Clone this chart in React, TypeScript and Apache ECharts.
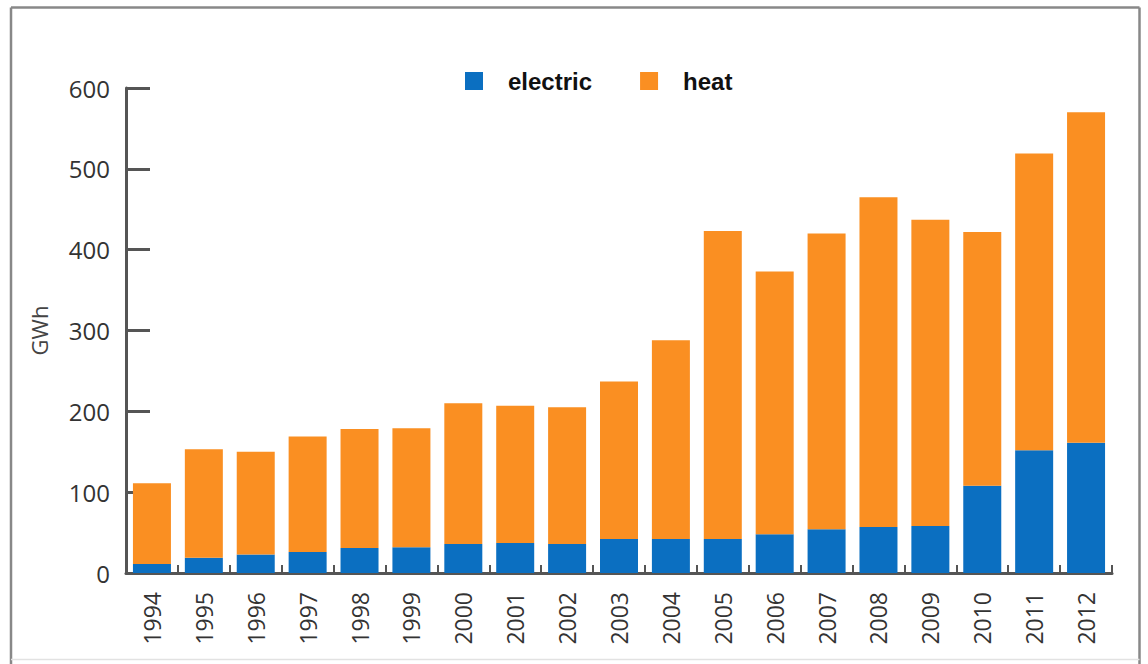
import React, { useEffect, useRef } from "react";
import * as echarts from "echarts";

const years = ["1994","1995","1996","1997","1998","1999","2000","2001","2002","2003","2004","2005","2006","2007","2008","2009","2010","2011","2012"];
const electric = [11, 19, 23, 26, 31, 32, 36, 37, 36, 42, 42, 42, 48, 54, 57, 58, 108, 152, 161];
const heat = [100, 134, 127, 143, 147, 147, 174, 170, 169, 195, 246, 381, 325, 366, 408, 379, 314, 367, 409];
const yTicks = [0, 100, 200, 300, 400, 500, 600];

export default function App() {
  const ref = useRef<HTMLDivElement>(null);
  useEffect(() => {
    if (!ref.current) return;
    const chart = echarts.init(ref.current, null, { renderer: "svg" });
    const axisColor = "#555";
    chart.setOption({
      animation: false,
      backgroundColor: "#fff",
      graphic: [
        { type: "line", shape: { x1: 11, y1: 7.5, x2: 1139.5, y2: 7.5 }, style: { stroke: "#888", lineWidth: 2.5 } },
        { type: "line", shape: { x1: 11, y1: 7.5, x2: 11, y2: 664 }, style: { stroke: "#888", lineWidth: 2.5 } },
        { type: "line", shape: { x1: 1139.5, y1: 7.5, x2: 1139.5, y2: 664 }, style: { stroke: "#888", lineWidth: 2.5 } },
        { type: "line", shape: { x1: 11, y1: 659.5, x2: 1139.5, y2: 659.5 }, style: { stroke: "#e2e2e2", lineWidth: 1.5 } },
      ],
      legend: {
        left: 465,
        top: 69,
        padding: 0,
        itemWidth: 18,
        itemHeight: 18,
        itemGap: 48,
        icon: "rect",
        textStyle: {
          fontFamily: "Liberation Sans",
          fontWeight: "bold",
          fontSize: 24,
          color: "#111",
          padding: [0, 0, 0, 20],
        },
        data: ["electric", "heat"],
      },
      grid: { left: 126, right: 36, top: 88, bottom: 91, containLabel: false },
      xAxis: {
        type: "category",
        data: years,
        axisLine: { show: true, lineStyle: { color: axisColor, width: 3 } },
        axisTick: { show: true, inside: true, length: 8, lineStyle: { color: axisColor, width: 2 } },
        axisLabel: {
          rotate: 90,
          margin: 19,
          fontFamily: "Open Sans",
          fontSize: 23,
          color: "#333",
          interval: 0,
        },
      },
      yAxis: {
        type: "value",
        min: yTicks[0],
        max: yTicks[yTicks.length - 1],
        interval: 100,
        name: "GWh",
        nameLocation: "middle",
        nameGap: 76,
        nameRotate: 90,
        nameTextStyle: { fontFamily: "Open Sans", fontSize: 22, color: "#444" },
        axisLine: { show: true, lineStyle: { color: axisColor, width: 3 } },
        axisTick: { show: true, inside: true, length: 24, lineStyle: { color: axisColor, width: 3 } },
        splitLine: { show: false },
        axisLabel: {
          margin: 16,
          fontFamily: "Open Sans",
          fontSize: 24,
          color: "#333",
        },
      },
      series: [
        {
          name: "electric",
          type: "bar",
          stack: "total",
          barWidth: 38,
          data: electric,
          itemStyle: { color: "#0B6FC1" },
        },
        {
          name: "heat",
          type: "bar",
          stack: "total",
          barWidth: 38,
          data: heat,
          itemStyle: { color: "#FA8F22" },
        },
      ],
    });
    return () => chart.dispose();
  }, []);
  return (
    <div
      ref={ref}
      style={{ position: "fixed", left: 0, top: 0, width: 1148, height: 664 }}
    />
  );
}
